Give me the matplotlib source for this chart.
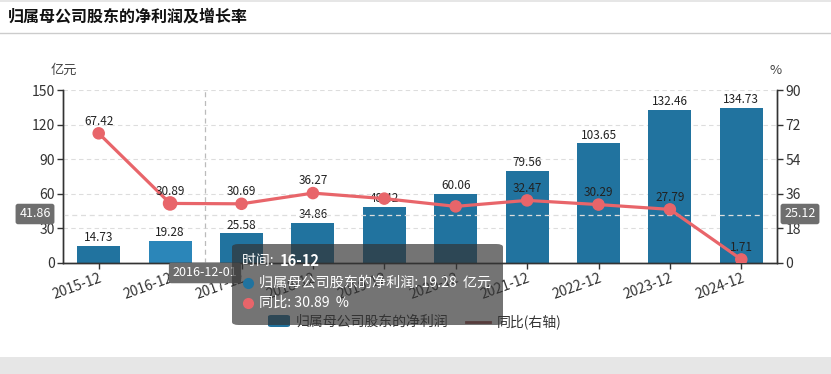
import numpy as np
import matplotlib.pyplot as plt
from matplotlib.patches import FancyBboxPatch, Rectangle
from matplotlib.lines import Line2D

plt.rcParams["font.family"] = ["Noto Sans CJK SC", "DejaVu Sans"]

# ---- data
years = ["2015-12", "2016-12", "2017-12", "2018-12", "2019-12",
         "2020-12", "2021-12", "2022-12", "2023-12", "2024-12"]
profit = [14.73, 19.28, 25.58, 34.86, 48.42, 60.06, 79.56, 103.65, 132.46, 134.73]
growth = [67.42, 30.89, 30.69, 36.27, 33.4, 29.35, 32.47, 30.29, 27.79, 1.71]
growth_label_shown = [True, True, True, True, False, False, True, True, True, True]

title = "归属母公司股东的净利润及增长率"
bar_name = "归属母公司股东的净利润"
line_name = "同比(右轴)"
hover_idx = 1          # tooltip sits on 2016-12
cross_x = 1.49         # crosshair position (category units)
cross_left = 41.86
cross_right = 25.12

W, H = 831, 374
bar_c = "#21739f"
bar_hover = "#2b86b9"
line_c = "#e8656a"
txt_c = "#333333"


def fx(px):
    return px / W


def fy(py):
    return 1 - py / H


fig = plt.figure(figsize=(W / 100, H / 100), dpi=100)

# header + bottom band
fig.add_artist(Rectangle((0, fy(2)), 1, 2 / H, color="#e6e6e6", lw=0))
fig.text(fx(8), fy(17), title, fontsize=11.5, color="#111111", va="center", ha="left",
         fontweight="bold")
fig.add_artist(Line2D([0, 1], [fy(33), fy(33)], color="#cccccc", lw=1))
fig.add_artist(Rectangle((0, 0), 1, fy(357), color="#e6e6e6", lw=0))

ax = fig.add_axes([fx(63), fy(262.7), fx(777 - 63), (262.7 - 90) / H])
ax2 = ax.twinx()

x = np.arange(len(years))
colors = [bar_hover if i == hover_idx else bar_c for i in x]
ax.bar(x, profit, width=0.6, color=colors, zorder=2)
for i, v in enumerate(profit):
    ax.text(i, v + 1.5, f"{v:.2f}", ha="center", va="bottom", fontsize=8.5, color="#222222")

ax.set_xlim(-0.5, len(years) - 0.5)
ax.set_ylim(0, 150)
ax.set_yticks([0, 30, 60, 90, 120, 150])
ax.yaxis.grid(True, linestyle=(0, (4, 3)), color="#dddddd", lw=0.8, zorder=0)
ax.set_axisbelow(True)
ax.set_xticks(x)
ax.set_xticklabels(years, rotation=20, ha="right", va="top", rotation_mode="anchor")

ax2.set_ylim(0, 90)
ax2.set_yticks([0, 18, 36, 54, 72, 90])
sizes = [9.5 if i == hover_idx else 8 for i in x]
ax2.plot(x, growth, color=line_c, lw=2.3, zorder=3)
ax2.scatter(x, growth, s=np.array(sizes) ** 2, color=line_c, zorder=4)
for i, v in enumerate(growth):
    if growth_label_shown[i]:
        ax2.text(i, v + 3.0, f"{v:.2f}", ha="center", va="bottom", fontsize=8.5, color="#222222")

for a in (ax, ax2):
    a.spines["top"].set_visible(False)
    for s in ("left", "right", "bottom"):
        a.spines[s].set_color(txt_c)
        a.spines[s].set_linewidth(1)
    a.tick_params(colors=txt_c, labelsize=10, length=4, width=1, pad=2)
    a.tick_params(axis="y", labelcolor=txt_c)

fig.text(fx(64), fy(70), "亿元", fontsize=9.5, color="#444444", ha="center", va="center")
fig.text(fx(776), fy(70), "%", fontsize=9.5, color="#444444", ha="center", va="center")

# crosshair (axis pointer)
ax2.axvline(cross_x, color="#bbbbbb", lw=0.9, linestyle=(0, (4, 3)), zorder=1)
ax.axhline(cross_left, color="#dddddd", lw=0.9, linestyle=(0, (4, 3)), zorder=3)
box = dict(boxstyle="round,pad=0.3,rounding_size=0.2", fc="#6e6e6e", ec="none")
fig.text(fx(35), fy(214), f"{cross_left:.2f}", fontsize=9, color="white",
         ha="center", va="center", bbox=box)
fig.text(fx(800), fy(214), f"{cross_right:.2f}", fontsize=9, color="white",
         ha="center", va="center", bbox=box)
fig.text(fx(205), fy(273), "2016-12-01", fontsize=9, color="white",
         ha="center", va="center", bbox=box, zorder=6)

# legend
fig.add_artist(FancyBboxPatch((fx(268), fy(327)), fx(22), (327 - 315) / H,
                              boxstyle="round,pad=0,rounding_size=0.004",
                              fc=bar_c, ec="none", zorder=5))
fig.text(fx(296), fy(322), bar_name, fontsize=10, color=txt_c, va="center", zorder=5)
fig.add_artist(Line2D([fx(466), fx(490)], [fy(322), fy(322)], color="#a05050", lw=2, zorder=5))
fig.text(fx(497), fy(322), line_name, fontsize=10, color=txt_c, va="center", zorder=5)

# tooltip
fig.add_artist(FancyBboxPatch((fx(232), fy(325)), fx(503 - 232), (325 - 244) / H,
                              boxstyle="round,pad=0,rounding_size=0.008",
                              fc=(0.2, 0.2, 0.2, 0.68), ec="none", zorder=20))
fig.text(fx(242), fy(261), "时间: ", fontsize=10, color="white", va="center", zorder=21)
fig.text(fx(280), fy(261), "16-12", fontsize=10.5, color="white", va="center",
         fontweight="bold", zorder=21)
fig.add_artist(Line2D([fx(248)], [fy(283)], marker="o", ms=7, color=bar_c, lw=0, zorder=21))
fig.text(fx(259), fy(283), f"{bar_name}: {profit[hover_idx]:.2f}  亿元", fontsize=10.2,
         color="white", va="center", zorder=21)
fig.add_artist(Line2D([fx(248)], [fy(303)], marker="o", ms=7, color=line_c, lw=0, zorder=21))
fig.text(fx(259), fy(303), f"同比: {growth[hover_idx]:.2f}  %", fontsize=10.2,
         color="white", va="center", zorder=21)

fig.savefig("out.png", dpi=100)
